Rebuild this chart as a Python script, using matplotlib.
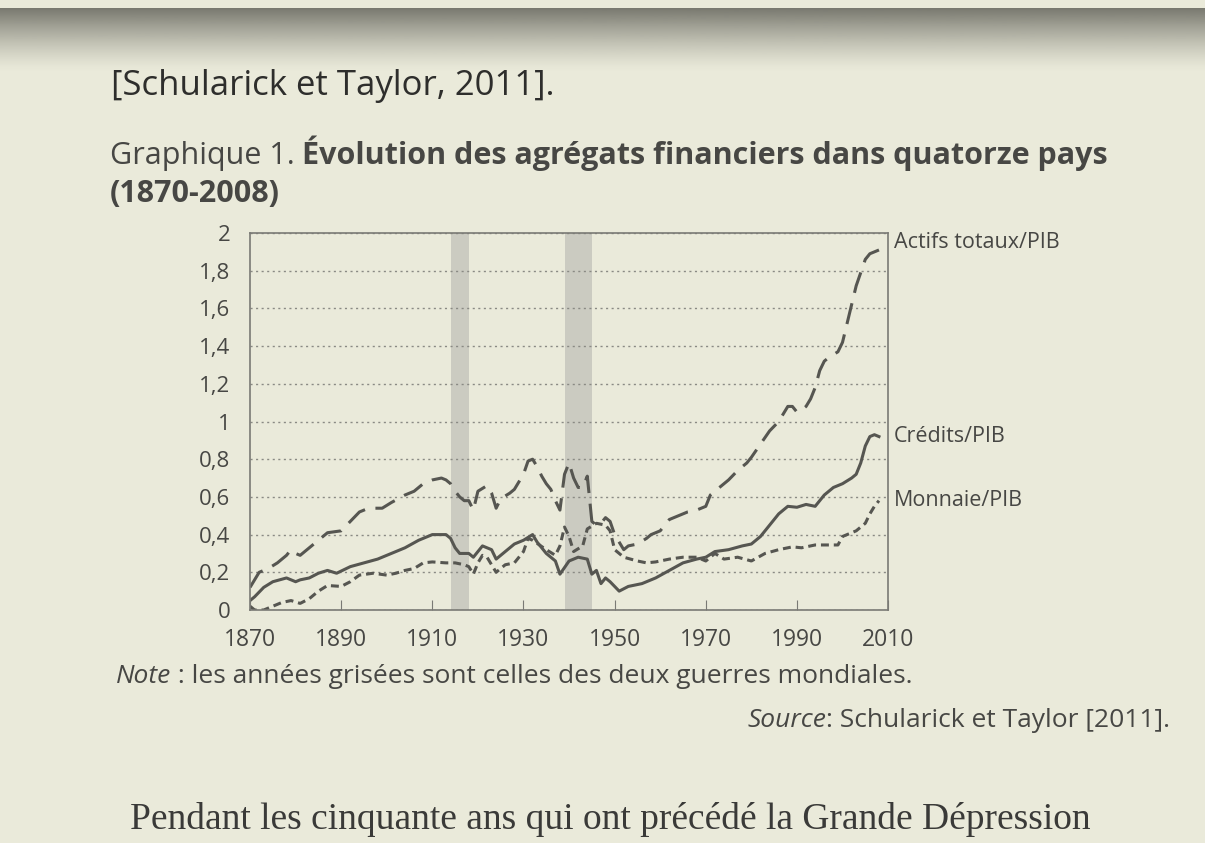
import numpy as np
import matplotlib
matplotlib.use('Agg')
import matplotlib.pyplot as plt
from matplotlib.colors import to_rgb

# data (ratio to GDP, 14 countries)
actifs_years = [1870, 1871, 1872, 1874, 1876, 1878, 1879, 1880, 1881, 1883, 1885, 1887, 1890,
                1892, 1894, 1896, 1899, 1901, 1904, 1906, 1908, 1910, 1912, 1913, 1914, 1915,
                1916, 1917, 1918, 1919, 1920, 1922, 1923, 1924, 1925, 1927, 1928, 1930, 1931,
                1932, 1933, 1934, 1935, 1936, 1937, 1938, 1939, 1940, 1941, 1942, 1943, 1944,
                1945, 1946, 1947, 1948, 1949, 1950, 1951, 1952, 1953, 1955, 1957, 1958, 1960,
                1962, 1964, 1966, 1968, 1970, 1971, 1973, 1975, 1977, 1979, 1980, 1982, 1984,
                1986, 1988, 1989, 1990, 1991, 1992, 1993, 1994, 1995, 1996, 1997, 1999, 2000,
                2001, 2002, 2003, 2004, 2005, 2006, 2007, 2008]
actifs = [0.12, 0.16, 0.20, 0.22, 0.25, 0.29, 0.32, 0.30, 0.29, 0.33, 0.37, 0.41, 0.42,
          0.47, 0.52, 0.54, 0.54, 0.57, 0.61, 0.63, 0.67, 0.69, 0.70, 0.69, 0.67, 0.63,
          0.60, 0.58, 0.58, 0.53, 0.63, 0.66, 0.62, 0.54, 0.59, 0.62, 0.64, 0.72, 0.79,
          0.80, 0.76, 0.71, 0.67, 0.64, 0.58, 0.53, 0.72, 0.78, 0.70, 0.65, 0.65, 0.71,
          0.47, 0.45, 0.46, 0.49, 0.47, 0.40, 0.36, 0.32, 0.34, 0.35, 0.38, 0.40, 0.42,
          0.48, 0.50, 0.52, 0.53, 0.55, 0.61, 0.65, 0.69, 0.74, 0.78, 0.81, 0.88, 0.95,
          1.00, 1.08, 1.08, 1.05, 1.06, 1.08, 1.12, 1.18, 1.27, 1.32, 1.34, 1.37, 1.42,
          1.52, 1.62, 1.72, 1.79, 1.86, 1.89, 1.90, 1.91]

credits_years = [1870, 1871, 1873, 1875, 1878, 1880, 1881, 1883, 1885, 1887, 1889, 1892, 1895,
                 1898, 1901, 1904, 1907, 1910, 1913, 1914, 1915, 1916, 1918, 1919, 1921, 1923,
                 1924, 1926, 1928, 1930, 1932, 1933, 1935, 1937, 1938, 1940, 1942, 1944, 1945,
                 1946, 1947, 1948, 1949, 1951, 1953, 1956, 1959, 1962, 1965, 1968, 1970, 1972,
                 1975, 1978, 1980, 1982, 1984, 1986, 1988, 1990, 1992, 1994, 1996, 1998, 2000,
                 2002, 2003, 2004, 2005, 2006, 2007, 2008]
credits = [0.05, 0.07, 0.12, 0.15, 0.17, 0.15, 0.16, 0.17, 0.195, 0.21, 0.195, 0.23, 0.25,
           0.27, 0.30, 0.33, 0.37, 0.40, 0.40, 0.38, 0.33, 0.30, 0.30, 0.28, 0.34, 0.32,
           0.27, 0.31, 0.35, 0.37, 0.40, 0.36, 0.30, 0.26, 0.19, 0.26, 0.28, 0.27, 0.19,
           0.21, 0.14, 0.17, 0.15, 0.10, 0.125, 0.14, 0.17, 0.21, 0.25, 0.27, 0.28, 0.31,
           0.32, 0.34, 0.35, 0.39, 0.45, 0.51, 0.55, 0.545, 0.56, 0.55, 0.61, 0.65, 0.67,
           0.70, 0.72, 0.78, 0.87, 0.92, 0.93, 0.92]

monnaie_years = [1870, 1871, 1873, 1875, 1877, 1879, 1881, 1883, 1885, 1887, 1890, 1892, 1894,
                 1897, 1900, 1902, 1904, 1906, 1908, 1910, 1913, 1915, 1917, 1918, 1919, 1920,
                 1921, 1922, 1924, 1926, 1928, 1930, 1931, 1932, 1935, 1937, 1938, 1939, 1940,
                 1941, 1943, 1944, 1946, 1948, 1949, 1950, 1952, 1955, 1957, 1959, 1962, 1965,
                 1968, 1970, 1972, 1974, 1977, 1980, 1983, 1986, 1989, 1991, 1994, 1999, 2000,
                 2003, 2005, 2006, 2007, 2008]
monnaie = [0.02, 0.0, 0.0, 0.02, 0.04, 0.05, 0.035, 0.06, 0.10, 0.13, 0.125, 0.15, 0.185,
           0.195, 0.185, 0.195, 0.21, 0.22, 0.25, 0.255, 0.25, 0.25, 0.24, 0.23, 0.19, 0.25,
           0.29, 0.28, 0.20, 0.24, 0.25, 0.31, 0.38, 0.37, 0.32, 0.29, 0.34, 0.44, 0.39,
           0.31, 0.34, 0.43, 0.46, 0.45, 0.42, 0.32, 0.28, 0.26, 0.25, 0.255, 0.27, 0.28,
           0.28, 0.26, 0.30, 0.27, 0.28, 0.26, 0.30, 0.32, 0.335, 0.33, 0.345, 0.345, 0.39,
           0.42, 0.46, 0.51, 0.55, 0.58]

wars = [(1914, 1918), (1939, 1945)]
x_ticks = [1870, 1890, 1910, 1930, 1950, 1970, 1990, 2010]
y_ticks = [0, 0.2, 0.4, 0.6, 0.8, 1, 1.2, 1.4, 1.6, 1.8, 2]
y_labels = ['0', '0,2', '0,4', '0,6', '0,8', '1', '1,2', '1,4', '1,6', '1,8', '2']

paper = '#eaeada'
ink = '#474744'
line_col = '#565651'
font = 'Open Sans'

fig = plt.figure(figsize=(12.05, 8.43), dpi=100, facecolor=paper)

# shadow of the facing page at the top of the photo (dark at top, fading down)
shade = fig.add_axes([0, 0.915, 1, 0.075])
grad = np.zeros((60, 1, 4))
grad[:, :, :3] = to_rgb('#5e5e56')
grad[:, 0, 3] = np.linspace(0.85, 0.0, 60) ** 1.3
shade.imshow(grad, aspect='auto', extent=[0, 1, 0, 1])
shade.set_axis_off()
shade.set_zorder(-1)

ax = fig.add_axes([0.2075, 0.2764, 0.5295, 0.4472])
ax.set_facecolor(paper)

for a, b in wars:
    ax.axvspan(a, b, color='#cbcbc1', lw=0)

ax.plot(actifs_years, actifs, color=line_col, lw=2.2, dashes=(7, 3.5))
ax.plot(credits_years, credits, color=line_col, lw=2.2)
ax.plot(monnaie_years, monnaie, color=line_col, lw=2.2, dashes=(2.6, 1.6))

ax.set_xlim(1870, 2010)
ax.set_ylim(0, 2)
ax.set_xticks(x_ticks)
ax.set_yticks(y_ticks)
ax.set_yticklabels(y_labels)
ax.yaxis.grid(True, color='#8a8a84', lw=1, linestyle=(0, (1.5, 2.5)))
ax.tick_params(axis='x', direction='in', length=7, color='#7a7a75', pad=13,
               labelsize=16.5, labelcolor=ink)
ax.tick_params(axis='y', length=0, pad=14, labelsize=16, labelcolor=ink)
for lab in ax.get_xticklabels() + ax.get_yticklabels():
    lab.set_family(font)
for s in ax.spines.values():
    s.set_color('#7a7a75')
    s.set_linewidth(1.2)

# series labels at the right end
ax.text(2011.2, 1.95, 'Actifs totaux/PIB', fontsize=15.5, family=font, color=ink,
        va='center', clip_on=False)
ax.text(2011.2, 0.92, 'Crédits/PIB', fontsize=15.5, family=font, color=ink,
        va='center', clip_on=False)
ax.text(2011.2, 0.58, 'Monnaie/PIB', fontsize=15.5, family=font, color=ink,
        va='center', clip_on=False)

# page text around the figure
fig.text(0.092, 0.887, '[Schularick et Taylor, 2011].', fontsize=25, family=font,
         color='#2e2e2c', va='baseline')
t1 = fig.text(0.091, 0.806, 'Graphique 1. ', fontsize=22, family=font, color=ink,
              va='baseline')
ax.annotate('Évolution des agrégats financiers dans quatorze pays', xy=(1, 0), xycoords=t1,
            fontsize=22, family=font, weight='bold', color=ink, va='bottom',
            annotation_clip=False)
fig.text(0.091, 0.760, '(1870-2008)', fontsize=22, family=font, weight='bold', color=ink,
         va='baseline')

n1 = fig.text(0.096, 0.190, 'Note', fontsize=19, family=font, style='italic', color=ink,
              va='baseline')
ax.annotate(' : les années grisées sont celles des deux guerres mondiales.', xy=(1, 0),
            xycoords=n1, fontsize=19, family=font, color=ink, va='bottom',
            annotation_clip=False)
s2 = fig.text(0.971, 0.138, ': Schularick et Taylor [2011].', fontsize=19, family=font,
              color=ink, ha='right', va='baseline')
ax.annotate('Source', xy=(0, 0), xycoords=s2, fontsize=19, family=font, style='italic',
            color=ink, ha='right', va='bottom', annotation_clip=False)

fig.text(0.108, 0.028, 'Pendant les cinquante ans qui ont précédé la Grande Dépression',
         fontsize=27, family='Liberation Serif', color='#3a3a38', va='center')

fig.savefig('out.png', dpi=100, facecolor=paper)
